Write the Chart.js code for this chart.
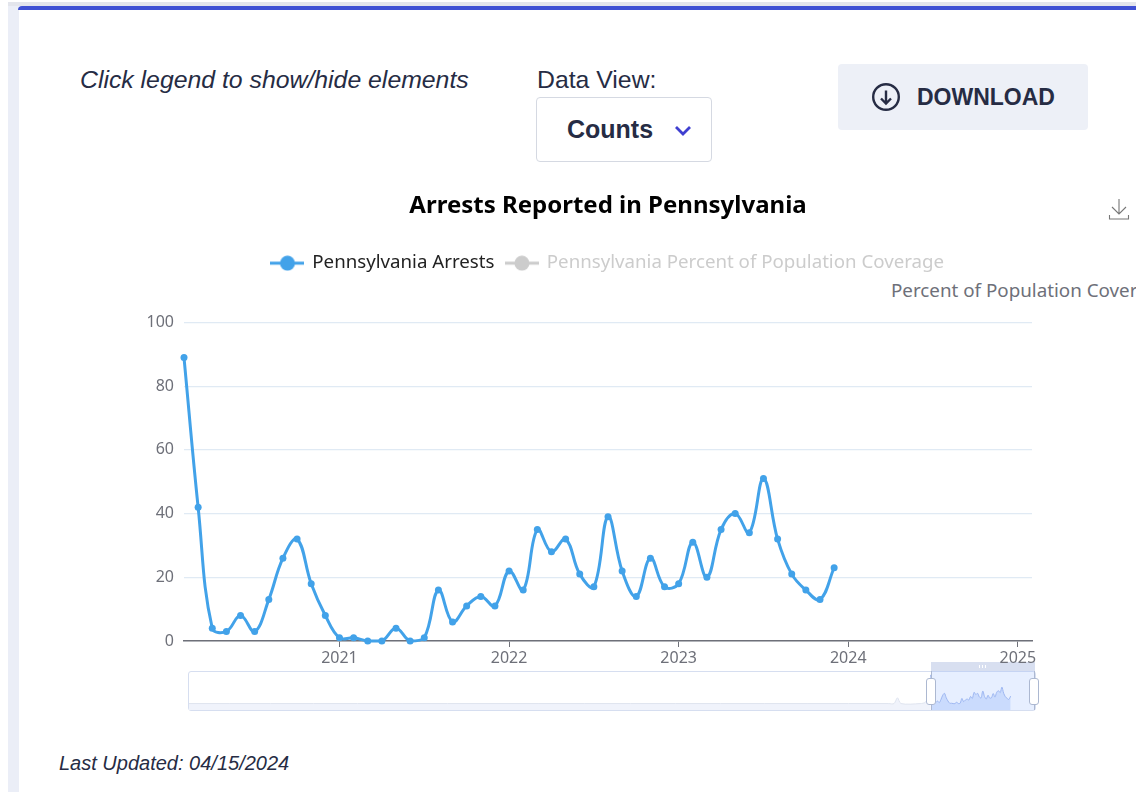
<!DOCTYPE html>
<html>
<head>
<meta charset="utf-8">
<title>Arrests Reported in Pennsylvania</title>
<script src="https://cdn.jsdelivr.net/npm/chart.js@4"></script>
<style>
  html, body { margin: 0; padding: 0; background: #fff; overflow: hidden; }
  body { width: 1147px; height: 792px; position: relative; font-family: "Liberation Sans", Arial, sans-serif; color: #262c44; }
  .abs { position: absolute; white-space: nowrap; }
  #side { left: 8px; top: 2px; width: 11px; height: 790px; background: #ebeef7; }
  #topstrip { left: 8px; top: 2px; width: 1128px; height: 4px; background: #e3e5ec; }
  #bar { left: 18px; top: 6px; width: 1118px; height: 4px; background: #3f51d4; border-top-left-radius: 4px; }
  #hint { left: 80px; top: 66px; font-size: 24.8px; font-style: italic; }
  #viewlabel { left: 537px; top: 66px; font-size: 24.8px; }
  #select { left: 536px; top: 97px; width: 174px; height: 63px; border: 1px solid #d5d9e2; border-radius: 4px; }
  #select b { position: absolute; left: 30px; top: 17px; font-size: 25px; }
  #select svg { position: absolute; left: 137px; top: 27px; }
  #download { left: 838px; top: 64px; width: 250px; height: 66px; background: #edf0f7; border-radius: 4px; }
  #download svg { position: absolute; left: 33px; top: 18px; }
  #download b { position: absolute; left: 79px; top: 20px; font-size: 23px; }
  #saveicon { left: 1108px; top: 197px; }
  #axisname { left: 891px; top: 277px; width: 245px; overflow: hidden; font: 18.8px "Noto Sans", sans-serif; color: #6e7079; }
  #updated { left: 59px; top: 752px; font-size: 20px; font-style: italic; }
  #frame { left: 188px; top: 671px; width: 846px; height: 38px; border: 1.5px solid #d6def0; border-radius: 3px; background: #fff; }
  #miniwrap { left: 189px; top: 671px; width: 846px; height: 39px; }
  #sel { left: 931px; top: 671px; width: 104px; height: 39px; background: rgba(135,175,255,.2); border-left: 1px solid #acb8d1; border-right: 1px solid #acb8d1; box-sizing: border-box; }
  #selbar { left: 931px; top: 662px; width: 104px; height: 9px; background: #d8dff0; }
  #grip { left: 979px; top: 665px; width: 9px; height: 3px; background: repeating-linear-gradient(90deg, #fff 0 1px, transparent 1px 3px); }
  .handle { top: 678px; width: 8px; height: 25px; background: #fff; border: 1.5px solid #acb8d1; border-radius: 3px; }
  #chartwrap { left: 80px; top: 180px; width: 1056px; height: 491px; }
</style>
</head>
<body>
<div class="abs" id="side"></div>
<div class="abs" id="topstrip"></div>
<div class="abs" id="bar"></div>

<div class="abs" id="hint">Click legend to show/hide elements</div>
<div class="abs" id="viewlabel">Data View:</div>
<div class="abs" id="select"><b>Counts</b>
  <svg width="18" height="12" viewBox="0 0 18 12"><path d="M2 2l7 7 7-7" fill="none" stroke="#3f3fd0" stroke-width="2.8"/></svg>
</div>
<div class="abs" id="download">
  <svg width="30" height="30" viewBox="0 0 30 30" fill="none" stroke="#262c44" stroke-width="2.4"><circle cx="15" cy="15" r="12.8"/><path d="M15 8.5v13M10 16.5l5 5 5-5"/></svg>
  <b>DOWNLOAD</b>
</div>
<svg class="abs" id="saveicon" width="22" height="24" viewBox="0 0 22 24" fill="none" stroke="#777" stroke-width="1.1"><path d="M11 2v15M4 10l7 7 7-7M1.5 18v4h19v-4"/></svg>
<div class="abs" id="axisname">Percent of Population Coverage</div>

<div class="abs" id="frame"></div>
<div class="abs" id="miniwrap"><canvas id="mini"></canvas></div>
<div class="abs" id="sel"></div>
<div class="abs" id="selbar"></div>
<div class="abs" id="grip"></div>
<div class="abs handle" style="left:926px"></div>
<div class="abs handle" style="left:1029px"></div>

<div class="abs" id="chartwrap"><canvas id="grafico"></canvas></div>
<div class="abs" id="updated">Last Updated: 04/15/2024</div>

<script>
const years = [2020, 2021, 2022, 2023, 2024, 2025];
const yTicks = [0, 20, 40, 60, 80, 100];

// Feb 2020 to Dec 2023, one value per month
const arrests = [
  89, 42, 4, 3, 8, 3, 13, 26, 32, 18, 8,
  1, 1, 0, 0, 4, 0, 1, 16, 6, 11, 14, 11,
  22, 16, 35, 28, 32, 21, 17, 39, 22, 14, 26, 17,
  18, 31, 20, 35, 40, 34, 51, 32, 21, 16, 13, 23
];
const coverage = []; // series is switched off in the picture

// slider preview before the selected window, months relative to Feb 2020
const previewMonths = [-426, -24, -21, -19, -17, -6, -3, -1, 0];
const previewValues = [0, 0, 0, 18, 0, 0, 4, 24, 40];

const arrestsLabel = "Pennsylvania Arrests";
const coverageLabel = "Pennsylvania Percent of Population Coverage";

const blue = "#42a2e9";
const grey = "#cccccc";
const tickGrey = "#6e7079";
const uiFont = '"Noto Sans", sans-serif';

// axis runs monthly from Feb 2020 to Feb 2025
const months = [];
years.forEach(y => {
  for (let m = 1; m <= 12; m++) {
    if ((y === 2020 && m < 2) || (y === 2025 && m > 2)) continue;
    months.push(y + "-" + String(m).padStart(2, "0"));
  }
});

function legendIcon(color) {
  const c = document.createElement("canvas");
  c.width = 34;
  c.height = 16;
  const g = c.getContext("2d");
  g.fillStyle = color;
  g.fillRect(0, 6.5, 34, 3);
  g.beginPath();
  g.arc(17, 8, 7.5, 0, Math.PI * 2);
  g.fill();
  return c;
}

// leaves room under the legend for the right axis name
const legendGap = {
  id: "legendGap",
  beforeInit(chart) {
    const fit = chart.legend.fit;
    chart.legend.fit = function () {
      fit.call(this);
      this.height += 40;
    };
  }
};

new Chart(document.getElementById("grafico"), {
  type: "line",
  plugins: [legendGap],
  data: {
    labels: months,
    datasets: [
      {
        label: arrestsLabel,
        data: arrests,
        borderColor: blue,
        backgroundColor: blue,
        borderWidth: 3,
        pointRadius: 3.5,
        pointBorderWidth: 0,
        pointHoverRadius: 4,
        tension: 0.4,
        clip: false
      },
      {
        label: coverageLabel,
        data: coverage,
        hidden: true,
        yAxisID: "y2",
        borderColor: grey,
        backgroundColor: grey
      }
    ]
  },
  options: {
    responsive: true,
    maintainAspectRatio: false,
    animation: false,
    layout: { padding: { top: 12, right: 0, left: 0, bottom: 0 } },
    plugins: {
      tooltip: { enabled: false },
      title: {
        display: true,
        text: "Arrests Reported in Pennsylvania",
        color: "#000",
        font: { family: uiFont, size: 24, weight: "bold" },
        padding: { top: 0, bottom: 21 }
      },
      legend: {
        position: "top",
        labels: {
          usePointStyle: true,
          pointStyleWidth: 31,
          boxHeight: 16,
          padding: 12,
          font: { family: uiFont, size: 18.7 },
          generateLabels: chart => chart.data.datasets.map((ds, i) => {
            const on = chart.isDatasetVisible(i);
            return {
              text: ds.label,
              datasetIndex: i,
              hidden: false,
              fontColor: on ? "#222" : grey,
              lineWidth: 0,
              strokeStyle: "transparent",
              fillStyle: on ? blue : grey,
              pointStyle: legendIcon(on ? blue : grey)
            };
          })
        }
      }
    },
    scales: {
      x: {
        type: "category",
        offset: false,
        grid: {
          drawOnChartArea: false,
          tickLength: 6,
          tickColor: ctx => (ctx.tick && ctx.tick.label ? tickGrey : "transparent")
        },
        border: { color: tickGrey, width: 1.5 },
        ticks: {
          autoSkip: false,
          maxRotation: 0,
          color: tickGrey,
          padding: 2,
          font: { family: uiFont, size: 16 },
          callback: function (val) {
            const lab = this.getLabelForValue(val);
            return lab.endsWith("-01") ? lab.slice(0, 4) : "";
          }
        },
        afterFit: s => { s.height = 30; }
      },
      y: {
        min: 0,
        max: 100,
        afterBuildTicks: s => { s.ticks = yTicks.map(v => ({ value: v })); },
        grid: { color: "#e0eaf4", lineWidth: 1.2, drawTicks: false },
        border: { display: false },
        ticks: { color: tickGrey, padding: 10, font: { family: uiFont, size: 16 } },
        afterFit: s => { s.width = 104; }
      },
      y2: {
        position: "right",
        min: 0,
        max: 100,
        grid: { display: false },
        border: { display: false },
        ticks: { display: false },
        afterFit: s => { s.width = 104; }
      }
    }
  }
});

new Chart(document.getElementById("mini"), {
  type: "line",
  data: {
    datasets: [
      {
        data: previewMonths.map((m, i) => ({ x: m, y: previewValues[i] })),
        borderColor: "#dfe4ef",
        backgroundColor: "#f0f3fb",
        borderWidth: 1,
        fill: "start",
        pointRadius: 0,
        tension: 0.3
      },
      {
        data: arrests.map((v, i) => ({ x: i, y: v })),
        borderColor: "#a3b9ee",
        backgroundColor: "#dbe6fd",
        borderWidth: 1,
        fill: "start",
        pointRadius: 0,
        tension: 0.3
      }
    ]
  },
  options: {
    responsive: true,
    maintainAspectRatio: false,
    animation: false,
    layout: { padding: 0 },
    plugins: { legend: { display: false }, tooltip: { enabled: false } },
    scales: {
      x: { type: "linear", min: -426, max: 60, display: false },
      y: { min: -20, max: 101, display: false }
    }
  }
});
</script>
</body>
</html>
